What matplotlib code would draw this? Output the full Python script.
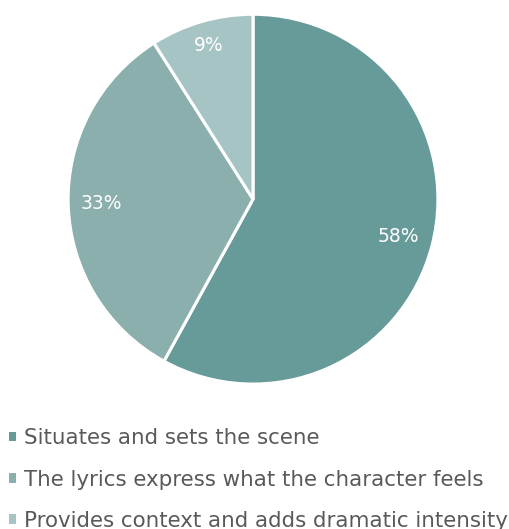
import numpy as np
import matplotlib.pyplot as plt
from matplotlib.patches import Patch

labels = ['Situates and sets the scene',
          'The lyrics express what the character feels',
          'Provides context and adds dramatic intensity']
values = [58, 33, 9]
colors = ['#679b99', '#8aafad', '#a5c4c3']
label_dist = [0.81, 0.82, 0.865]

fig = plt.figure(figsize=(5.09, 5.29), dpi=100)
ax = fig.add_axes([0.1336, 0.274, 0.727, 0.699])

wedges, texts, autotexts = ax.pie(
    values, colors=colors, startangle=90, counterclock=False,
    autopct='%1.0f%%', pctdistance=0.82,
    wedgeprops=dict(edgecolor='white', linewidth=2.2),
    textprops=dict(color='white', fontsize=13.5))
# nudge each percentage label out to its own radius
for w, t, d in zip(wedges, autotexts, label_dist):
    ang = np.deg2rad((w.theta1 + w.theta2) / 2)
    t.set_position((d * np.cos(ang), d * np.sin(ang)))
ax.set_xlim(-1, 1)
ax.set_ylim(-1, 1)
ax.set_aspect('equal')

handles = [Patch(facecolor=c, edgecolor='none') for c in colors]
fig.legend(handles, labels, loc='upper left', bbox_to_anchor=(-0.021, 0.227),
           frameon=False, fontsize=15.4, handlelength=0.33, handleheight=0.33,
           handletextpad=0.37, labelspacing=1.0, labelcolor='#595959')

fig.savefig('out.png', dpi=100)
